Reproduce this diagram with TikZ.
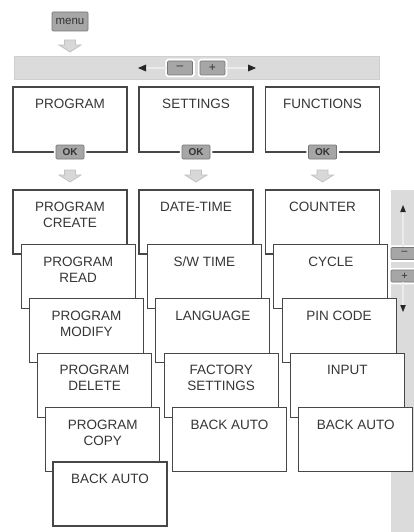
\documentclass[tikz,border=0pt]{standalone}
\usepackage{fontspec}
\setmainfont{Liberation Sans}
\usetikzlibrary{calc}
\definecolor{boxline}{HTML}{474747}
\definecolor{textc}{HTML}{363636}
\definecolor{barfill}{HTML}{DBDBDB}
\definecolor{barline}{HTML}{CFCFCF}
\definecolor{btnfill}{HTML}{A6A6A6}
\definecolor{btnline}{HTML}{767676}
\definecolor{arrfill}{HTML}{D8D8D8}
\definecolor{arrline}{HTML}{C2C2C2}
\newcommand{\blockarr}[1]{%
  \filldraw[fill=arrfill,draw=arrline,line width=0.8pt]
    ($(#1)+(-5.5,0)$) -- ($(#1)+(5.5,0)$) -- ($(#1)+(5.5,5)$) -- ($(#1)+(11,5)$)
    -- ($(#1)+(0,12)$) -- ($(#1)+(-11,5)$) -- ($(#1)+(-5.5,5)$) -- cycle;}
\begin{document}
\begin{tikzpicture}[x=1pt,y=-1pt,
  box/.style={draw=boxline,fill=white,line width=1.2pt,minimum width=114pt,
    minimum height=64pt,anchor=north west,inner sep=0pt,outer sep=0pt},
  topbox/.style={box,minimum height=65pt},
  txt/.style={text=textc,font=\fontsize{13.5}{16}\selectfont,align=center,
    anchor=north,inner sep=0pt},
  btn/.style={draw=btnline,fill=btnfill,line width=0.7pt,rounded corners=1pt,
    inner sep=0pt,text=black!80,preaction={draw=white,line width=4.5pt}},
  okbtn/.style={btn,minimum width=28pt,minimum height=14pt,
    font=\bfseries\fontsize{10}{10}\selectfont},
  thinline/.style={draw=white!92!black,line width=1.2pt},
  tipfill/.style={fill=black!85}
]
\useasboundingbox (0,0) rectangle (413,532);

% menu
\node[btn,minimum width=36pt,minimum height=19pt,font=\fontsize{11.5}{12}\selectfont] (menu) at (70,21.5) {menu};
\coordinate (a0) at (70,40);
\blockarr{a0}

% top bar
\node[fill=barfill,draw=barline,line width=0.8pt,minimum width=365pt,minimum height=23pt,inner sep=0pt] (bar) at (196.5,67.5) {};
\node[btn,minimum width=25pt,minimum height=14pt,font=\fontsize{12}{12}\selectfont] (minus) at (180,68) {\raisebox{0.5pt}{--}};
\node[btn,minimum width=25pt,minimum height=14pt,font=\fontsize{12}{12}\selectfont] (plus) at (212.5,68) {+};
\coordinate (ltip) at (138,68);
\coordinate (rtip) at (256,68);
\draw[thinline] (minus.west) -- ($(ltip)+(8,0)$);
\draw[thinline] (plus.east) -- ($(rtip)+(-8,0)$);
\fill[tipfill] (ltip) -- ++(8,-3.5) -- ++(0,7) -- cycle;
\fill[tipfill] (rtip) -- ++(-8,-3.5) -- ++(0,7) -- cycle;

% top boxes
\node[topbox] (prog) at (13,87) {};
\node[txt] at ([yshift=-12pt]prog.north) {PROGRAM};
\node[topbox] (sett) at (139,87) {};
\node[txt] at ([yshift=-12pt]sett.north) {SETTINGS};
\node[topbox] (func) at (265.5,87) {};
\node[txt] at ([yshift=-12pt]func.north) {FUNCTIONS};
\node[okbtn] (okp) at (prog.south) {OK};
\node[okbtn] (oks) at (sett.south) {OK};
\node[okbtn] (okf) at (func.south) {OK};
\coordinate (a1) at (70,170);
\coordinate (a2) at (196,170);
\coordinate (a3) at (322.5,170);
\blockarr{a1}
\blockarr{a2}
\blockarr{a3}

% scrollbar
\fill[barfill] (390.5,190) rectangle (420,540);
\node[btn,minimum width=27pt,minimum height=12pt,font=\fontsize{11}{11}\selectfont] (sminus) at (404.5,253.5) {\raisebox{0.5pt}{--}};
\node[btn,minimum width=27pt,minimum height=12pt,font=\fontsize{11}{11}\selectfont] (splus) at (404.5,276) {+};
\coordinate (utip) at (403,205);
\coordinate (dtip) at (403,312);
\draw[thinline] ($(utip)+(0,7)$) -- (sminus.north -| utip);
\draw[thinline] (splus.south -| dtip) -- ($(dtip)+(0,-7)$);
\fill[tipfill] (utip) -- ++(-2.8,7) -- ++(5.6,0) -- cycle;
\fill[tipfill] (dtip) -- ++(-2.8,-7) -- ++(5.6,0) -- cycle;

% program column
\node[box] (p1) at (13,190) {};
\node[txt] at ([yshift=-12pt]p1.north) {PROGRAM\\CREATE};
\node[box] (p2) at (21.2,244.4) {};
\node[txt] at ([yshift=-12pt]p2.north) {PROGRAM\\READ};
\node[box] (p3) at (29.4,298.8) {};
\node[txt] at ([yshift=-12pt]p3.north) {PROGRAM\\MODIFY};
\node[box] (p4) at (37.6,353.2) {};
\node[txt] at ([yshift=-12pt]p4.north) {PROGRAM\\DELETE};
\node[box] (p5) at (45.8,407.6) {};
\node[txt] at ([yshift=-12pt]p5.north) {PROGRAM\\COPY};
\node[box] (p6) at (53,462) {};
\node[txt] at ([yshift=-12pt]p6.north) {BACK AUTO};

% settings column
\node[box] (s1) at (139,190) {};
\node[txt] at ([yshift=-12pt]s1.north) {DATE-TIME};
\node[box] (s2) at (147.4,244.4) {};
\node[txt] at ([yshift=-12pt]s2.north) {S/W TIME};
\node[box] (s3) at (155.8,298.8) {};
\node[txt] at ([yshift=-12pt]s3.north) {LANGUAGE};
\node[box] (s4) at (164.2,353.2) {};
\node[txt] at ([yshift=-12pt]s4.north) {FACTORY\\SETTINGS};
\node[box] (s5) at (172.6,407.6) {};
\node[txt] at ([yshift=-12pt]s5.north) {BACK AUTO};

% functions column
\node[box] (f1) at (265.5,190) {};
\node[txt] at ([yshift=-12pt]f1.north) {COUNTER};
\node[box] (f2) at (273.8,244.4) {};
\node[txt] at ([yshift=-12pt]f2.north) {CYCLE};
\node[box] (f3) at (282.1,298.8) {};
\node[txt] at ([yshift=-12pt]f3.north) {PIN CODE};
\node[box] (f4) at (290.4,353.2) {};
\node[txt] at ([yshift=-12pt]f4.north) {INPUT};
\node[box] (f5) at (298.7,407.6) {};
\node[txt] at ([yshift=-12pt]f5.north) {BACK AUTO};
\end{tikzpicture}
\end{document}
